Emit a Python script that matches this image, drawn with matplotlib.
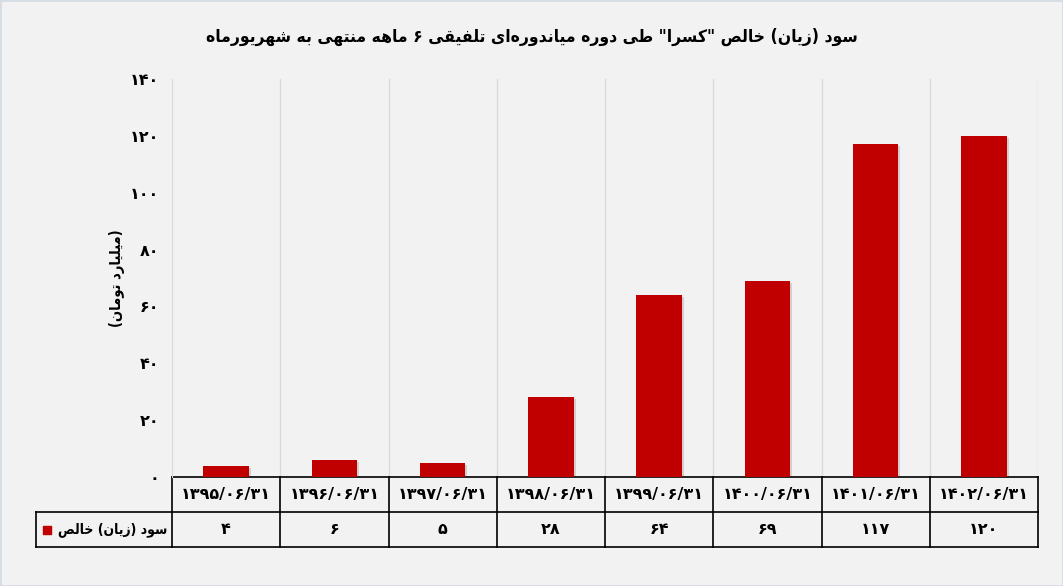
import numpy as np
import matplotlib.pyplot as plt
import matplotlib.patheffects as pe
from matplotlib.transforms import blended_transform_factory

# داده ها
dates = ["۱۳۹۵/۰۶/۳۱", "۱۳۹۶/۰۶/۳۱", "۱۳۹۷/۰۶/۳۱", "۱۳۹۸/۰۶/۳۱",
         "۱۳۹۹/۰۶/۳۱", "۱۴۰۰/۰۶/۳۱", "۱۴۰۱/۰۶/۳۱", "۱۴۰۲/۰۶/۳۱"]
profit = [4, 6, 5, 28, 64, 69, 117, 120]
yticks = [0, 20, 40, 60, 80, 100, 120, 140]
title = 'سود (زیان) خالص "کسرا" طی دوره میاندوره\u200cای تلفیقی ۶ ماهه منتهی به شهریورماه'
ylabel = "(میلیارد تومان)"
series_name = "سود (زیان) خالص"

RED = "#C00000"
BG = "#F2F2F2"

# matplotlib has no arabic shaping -> presentation forms (isol, fina, init, medi)
FORMS = {
    "\u0627": ("\uFE8D", "\uFE8E", None, None),
    "\u0628": ("\uFE8F", "\uFE90", "\uFE91", "\uFE92"),
    "\u062A": ("\uFE95", "\uFE96", "\uFE97", "\uFE98"),
    "\u062E": ("\uFEA5", "\uFEA6", "\uFEA7", "\uFEA8"),
    "\u062F": ("\uFEA9", "\uFEAA", None, None),
    "\u0631": ("\uFEAD", "\uFEAE", None, None),
    "\u0632": ("\uFEAF", "\uFEB0", None, None),
    "\u0633": ("\uFEB1", "\uFEB2", "\uFEB3", "\uFEB4"),
    "\u0634": ("\uFEB5", "\uFEB6", "\uFEB7", "\uFEB8"),
    "\u0635": ("\uFEB9", "\uFEBA", "\uFEBB", "\uFEBC"),
    "\u0637": ("\uFEC1", "\uFEC2", "\uFEC3", "\uFEC4"),
    "\u0641": ("\uFED1", "\uFED2", "\uFED3", "\uFED4"),
    "\u0642": ("\uFED5", "\uFED6", "\uFED7", "\uFED8"),
    "\u0644": ("\uFEDD", "\uFEDE", "\uFEDF", "\uFEE0"),
    "\u0645": ("\uFEE1", "\uFEE2", "\uFEE3", "\uFEE4"),
    "\u0646": ("\uFEE5", "\uFEE6", "\uFEE7", "\uFEE8"),
    "\u0647": ("\uFEE9", "\uFEEA", "\uFEEB", "\uFEEC"),
    "\u0648": ("\uFEED", "\uFEEE", None, None),
    "\u06A9": ("\uFB8E", "\uFB8F", "\uFB90", "\uFB91"),
    "\u06CC": ("\uFBFC", "\uFBFD", "\uFBFE", "\uFBFF"),
}
MIRROR = {"(": ")", ")": "("}


def fa(s):
    out = []
    for i, c in enumerate(s):
        f = FORMS.get(c)
        if f is None:
            if c != "\u200c":
                out.append(MIRROR.get(c, c))
            continue
        prev = s[i - 1] if i > 0 else ""
        nxt = s[i + 1] if i + 1 < len(s) else ""
        jp = prev in FORMS and FORMS[prev][2] is not None
        jn = f[2] is not None and nxt in FORMS
        if jp and jn:
            out.append(f[3])
        elif jp:
            out.append(f[1])
        elif jn:
            out.append(f[2])
        else:
            out.append(f[0])
    return "".join(reversed(out))


def fa_num(v):
    return str(v).translate(str.maketrans("0123456789", "۰۱۲۳۴۵۶۷۸۹"))


plt.rcParams["font.family"] = ["DejaVu Sans"]
plt.rcParams["font.weight"] = "bold"

W, H = 1063, 586
fig = plt.figure(figsize=(W / 100, H / 100), dpi=100, facecolor=BG)
fig.patches.append(plt.Rectangle((0, 0), 1, 1, transform=fig.transFigure,
                                 fill=False, edgecolor="#D6DCE4", lw=2))
L, R, T, B = 172, 1038, 79, 477
ax = fig.add_axes([L / W, 1 - B / H, (R - L) / W, (B - T) / H])
ax.set_facecolor(BG)

x = np.arange(len(profit))
bars = ax.bar(x, profit, width=0.42, color=RED, zorder=3)
for b in bars:
    b.set_path_effects([pe.SimplePatchShadow(offset=(1.5, -1.5), alpha=0.15), pe.Normal()])

ax.set_xlim(-0.5, len(profit) - 0.5)
ax.set_ylim(0, 140)
ax.set_yticks(yticks)
ax.set_yticklabels([fa_num(v) for v in yticks], fontsize=11.5, fontweight="bold")
ax.tick_params(axis="y", length=0, pad=9)
ax.set_xticks([])
for s in ["top", "right", "bottom"]:
    ax.spines[s].set_visible(False)
ax.spines["left"].set_color("#D9D9D9")
for xb in np.arange(0.5, len(profit) - 0.5 + 0.01, 1):
    ax.axvline(xb, color="#D9D9D9", lw=1, zorder=1)

ax.set_ylabel(fa(ylabel), fontsize=10.5, fontweight="bold", labelpad=4,
              fontstretch="condensed")

fig.text(0.5, 1 - 37 / H, fa(title), ha="center", va="center",
         fontsize=12.5, fontweight="bold", fontstretch="condensed")

# جدول داده
tr = blended_transform_factory(ax.transData, ax.transAxes)
rh = 35 / (B - T)
x0 = -0.5
xl = -0.5 - (L - 36) / ((R - L) / len(profit))
xr = len(profit) - 0.5
kw = dict(color="black", lw=1.2, transform=tr, clip_on=False)
ax.plot([x0, xr], [0, 0], **kw)
ax.plot([xl, xr], [-rh, -rh], **kw)
ax.plot([xl, xr], [-2 * rh, -2 * rh], **kw)
for xb in np.arange(x0, xr + 0.01, 1):
    ax.plot([xb, xb], [0, -2 * rh], **kw)
ax.plot([xl, xl], [-rh, -2 * rh], **kw)
for i in range(len(profit)):
    ax.text(i, -rh / 2, dates[i], transform=tr, ha="center", va="center",
            fontsize=11.5, fontweight="bold")
    ax.text(i, -1.5 * rh, fa_num(profit[i]), transform=tr, ha="center", va="center",
            fontsize=11.5, fontweight="bold")
ax.text(x0 - 0.04, -1.5 * rh, fa(series_name), transform=tr, ha="right", va="center",
        fontsize=10, fontweight="bold", fontstretch="condensed")
ax.scatter([xl + 0.1], [-1.5 * rh], marker="s", s=40, color=RED, transform=tr,
           clip_on=False)

fig.savefig("out.png", dpi=100, facecolor=BG)
